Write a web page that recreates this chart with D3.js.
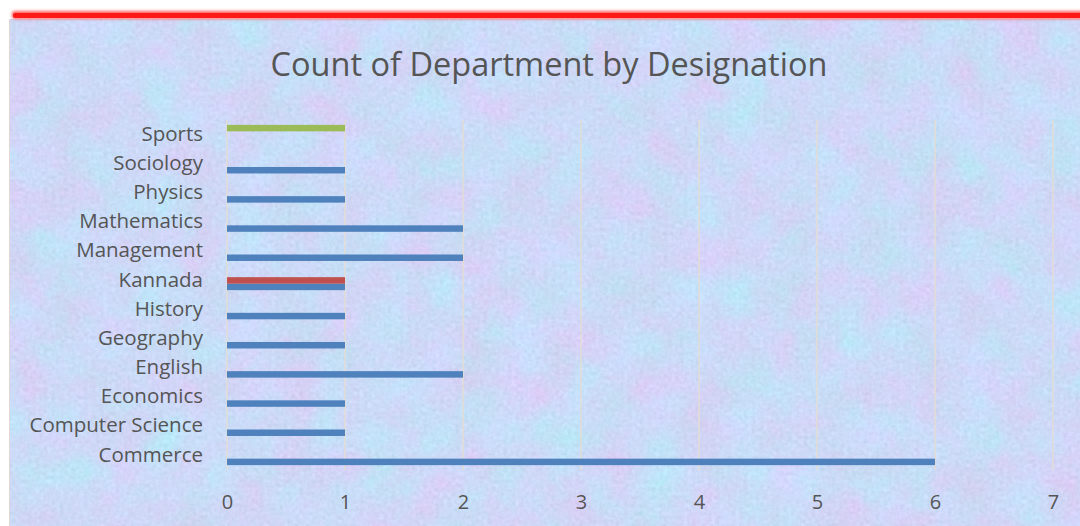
<!DOCTYPE html>
<html><head><meta charset="utf-8">
<script src="https://cdn.jsdelivr.net/npm/d3@7"></script>
<style>html,body{margin:0;padding:0;background:#fff;overflow:hidden}</style>
</head><body>
<svg id="c" width="1080" height="526"></svg>
<script>
const categories = ["Commerce","Computer Science","Economics","English","Geography","History","Kannada","Management","Mathematics","Physics","Sociology","Sports"];
const seriesNames = ["Assistant Professor","Associate Professor","Physical Director"];
const assistantProfessor = [6,1,1,2,1,1,1,2,2,1,1,0];
const associateProfessor = [0,0,0,0,0,0,1,0,0,0,0,0];
const physicalDirector   = [0,0,0,0,0,0,0,0,0,0,0,1];
const seriesValues = [assistantProfessor, associateProfessor, physicalDirector];
const seriesColors = ["#4f81bd","#c0504d","#9bbb59"];
const xTicks = [0,1,2,3,4,5,6,7];
const title = "Count of Department by Designation";

const svg = d3.select("#c");
const defs = svg.append("defs");

// textured background
const f = defs.append("filter").attr("id","tex").attr("x",0).attr("y",0).attr("width","100%").attr("height","100%")
  .attr("color-interpolation-filters","sRGB");
f.append("feTurbulence").attr("type","fractalNoise").attr("baseFrequency","0.022").attr("numOctaves",5).attr("seed",7).attr("result","n1");
f.append("feColorMatrix").attr("in","n1").attr("type","matrix")
  .attr("values","0.13 -0.1 0 0 0.785  -0.07 0.11 0 0 0.835  0.05 0.05 0 0 0.92  0 0 0 0 1").attr("result","c1");
f.append("feTurbulence").attr("type","fractalNoise").attr("baseFrequency","0.25").attr("numOctaves",2).attr("seed",3).attr("result","n2");
f.append("feColorMatrix").attr("in","n2").attr("type","matrix")
  .attr("values","0.33 0.33 0.33 0 0  0.33 0.33 0.33 0 0  0.33 0.33 0.33 0 0  0 0 0 0 1").attr("result","g2");
f.append("feComposite").attr("in","c1").attr("in2","g2").attr("operator","arithmetic")
  .attr("k1",0).attr("k2",1).attr("k3",0.14).attr("k4",-0.07);

const glow = defs.append("filter").attr("id","glow").attr("x","-5%").attr("y","-200%").attr("width","110%").attr("height","500%");
glow.append("feGaussianBlur").attr("stdDeviation",1.6);

svg.append("rect").attr("x",0).attr("y",0).attr("width",1080).attr("height",526).attr("fill","#fff");
svg.append("rect").attr("x",9).attr("y",19).attr("width",1071).attr("height",507).attr("fill","#cddcf6");
svg.append("rect").attr("x",9).attr("y",19).attr("width",1071).attr("height",507).attr("filter","url(#tex)");
svg.append("line").attr("x1",9.5).attr("x2",9.5).attr("y1",19).attr("y2",526).attr("stroke","#e6d6d2").attr("stroke-width",1);

// red top band with glow
svg.append("rect").attr("x",12).attr("y",11).attr("width",1080).attr("height",8).attr("rx",3).attr("fill","#ff6060").attr("filter","url(#glow)");
svg.append("rect").attr("x",13).attr("y",13).attr("width",1080).attr("height",5).attr("rx",2).attr("fill","#ff1a1a");

const x = d3.scaleLinear().domain([0,7]).range([227,1053]);
const y = d3.scaleBand().domain(categories.slice().reverse()).range([120,470]).paddingInner(0).paddingOuter(0);
const bw = y.bandwidth();
const gap = bw*1.5/4.5;
const ys = d3.scaleBand().domain(seriesNames.slice().reverse()).range([gap/2, bw-gap/2]);

// gridlines
svg.append("g").selectAll("line").data(xTicks).join("line")
  .attr("x1",d=>x(d)).attr("x2",d=>x(d)).attr("y1",120).attr("y2",470)
  .attr("stroke","#e2ddd6").attr("stroke-width",1.5);

// bars
const rows = [];
seriesNames.forEach((s,i)=>categories.forEach((c,j)=>{ if(seriesValues[i][j]>0) rows.push({s,c,v:seriesValues[i][j],col:seriesColors[i]}); }));
svg.append("g").selectAll("rect").data(rows).join("rect")
  .attr("x",x(0)).attr("y",d=>y(d.c)+ys(d.s)).attr("height",ys.bandwidth())
  .attr("width",d=>x(d.v)-x(0)).attr("fill",d=>d.col);

const font = "'Open Sans', 'Noto Sans', sans-serif";
// category axis
const ya = d3.axisLeft(y).tickSize(0).tickPadding(0);
const yg = svg.append("g").attr("transform","translate(203,0)").call(ya);
yg.select(".domain").remove();
yg.selectAll("text").attr("font-family",font).attr("font-size",20.5).attr("fill","#555").attr("dy","0.3em");

// value axis
const xa = d3.axisBottom(x).tickValues(xTicks).tickSize(0).tickPadding(0).tickFormat(d3.format("d"));
const xg = svg.append("g").attr("transform","translate(0,502)").call(xa);
xg.select(".domain").remove();
xg.selectAll("text").attr("font-family",font).attr("font-size",20).attr("fill","#555").attr("dy","0.34em");

svg.append("text").attr("x",549).attr("y",67).attr("text-anchor","middle").attr("dominant-baseline","middle")
  .attr("font-family",font).attr("font-size",32.5).attr("fill","#555").text(title);
</script>
</body></html>
